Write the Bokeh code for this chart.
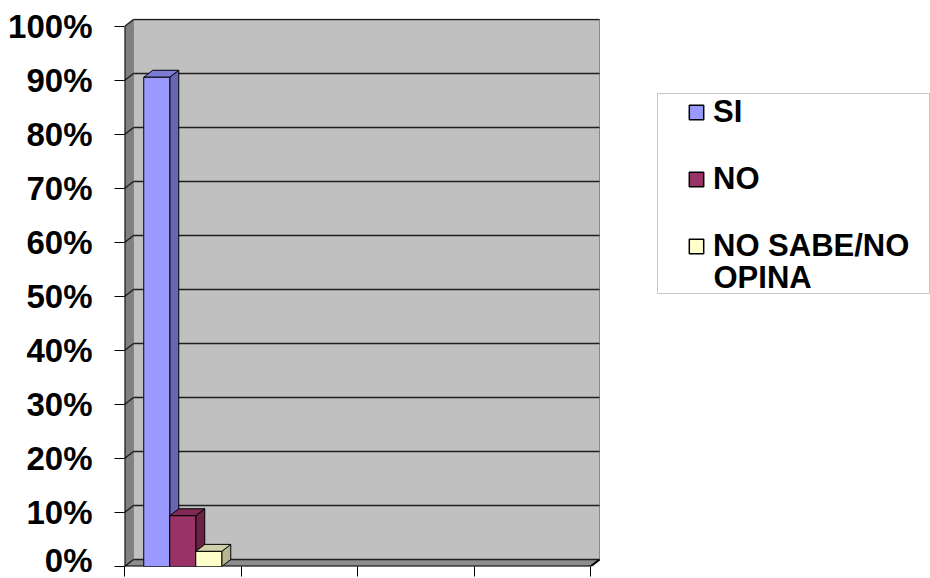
from bokeh.plotting import figure
from bokeh.layouts import row
from bokeh.models import (Range1d, FixedTicker, PrintfTickFormatter, Legend, LegendItem,
                          BoxAnnotation, Label)
from bokeh.embed import file_html
from bokeh.resources import INLINE

# ---- data -------------------------------------------------------------
series = ["SI", "NO", "NO SABE/NO"]
series_continuation = "OPINA"        # second line of the third legend label
values = [90.6, 9.4, 2.8]            # percent
n_categories = 4                     # category slots on the x axis
y_ticks = [0, 10, 20, 30, 40, 50, 60, 70, 80, 90, 100]

front_colors = ["#9999FF", "#993366", "#FFFFCC"]
top_colors = ["#7B7BD6", "#7E2A55", "#D0D0A8"]
side_colors = ["#6666B3", "#6A2346", "#B5B592"]

# ---- geometry / style ---------------------------------------------------
D = 0.0773      # depth offset in x (category units)
DY = 1.296      # depth offset in y (percent units)
BW = 0.2232     # bar width (category units)

p = figure(width=600, height=578, output_backend="svg", toolbar_location=None,
           x_range=Range1d(0, n_categories + 0.0858), y_range=Range1d(0, 101.48),
           min_border_left=124, min_border_right=0, min_border_top=18,
           min_border_bottom=12, background_fill_color="white",
           border_fill_color="white", outline_line_color=None)
p.xgrid.visible = False
p.ygrid.visible = False

# walls
top = y_ticks[-1]
p.quad(left=[D], right=[n_categories + D], bottom=[DY], top=[top + DY],
       fill_color="#C0C0C0", line_color="#8A8A8A", line_width=1)
p.patch([0, 0, D, D], [0, top, top + DY, DY], fill_color="#808080", line_color=None)
p.patch([0, n_categories, n_categories + D, D], [0, 0, DY, DY],
        fill_color="#8C8C8C", line_color=None)

# gridlines on side and back walls
gx0, gy0, gx1, gy1 = [], [], [], []
for v in y_ticks:
    gx0 += [0, D]; gy0 += [v, v + DY]
    gx1 += [D, n_categories + D]; gy1 += [v + DY, v + DY]
p.segment(gx0, gy0, gx1, gy1, line_color="#1E1E1E", line_width=1.5)

# front edges
p.segment([0, 0, n_categories], [0, 0, 0], [0, n_categories, n_categories + D],
          [top, 0, DY], line_color="black", line_width=2)

# bars
group_left = 0.5 - 1.5 * BW
for i, v in enumerate(values):
    l = group_left + i * BW
    r = l + BW
    p.patch([r, r + D, r + D, r], [0, DY, v + DY, v],
            fill_color=side_colors[i], line_color="black", line_width=1)
    p.patch([l, r, r + D, l + D], [v, v, v + DY, v + DY],
            fill_color=top_colors[i], line_color="black", line_width=1)
    p.patch([l, r, r, l], [0, 0, v, v],
            fill_color=front_colors[i], line_color="black", line_width=1)

# axes
p.yaxis.ticker = FixedTicker(ticks=y_ticks)
p.yaxis.formatter = PrintfTickFormatter(format="%d%%")
p.yaxis.axis_line_color = None
p.yaxis.major_tick_out = 10
p.yaxis.major_tick_in = 0
p.yaxis.minor_tick_line_color = None
p.yaxis.major_tick_line_color = "black"
p.yaxis.major_label_standoff = 22
p.yaxis.major_label_text_font = "Liberation Sans"
p.yaxis.major_label_text_font_style = "bold"
p.yaxis.major_label_text_font_size = "33px"
p.yaxis.major_label_text_color = "black"

p.xaxis.ticker = FixedTicker(ticks=list(range(n_categories + 1)))
p.xaxis.major_label_overrides = {i: "" for i in range(n_categories + 1)}
p.xaxis.major_label_text_font_size = "1px"
p.xaxis.major_label_standoff = 0
p.xaxis.axis_line_color = None
p.xaxis.major_tick_out = 10
p.xaxis.major_tick_in = 0
p.xaxis.minor_tick_line_color = None
p.xaxis.major_tick_line_color = "black"

# ---- legend panel -------------------------------------------------------
q = figure(width=330, height=578, output_backend="svg", toolbar_location=None,
           x_axis_type=None, y_axis_type=None, x_range=Range1d(0, 1), y_range=Range1d(0, 1),
           min_border=0, outline_line_color=None, background_fill_color="white",
           border_fill_color="white")
q.xgrid.visible = False
q.ygrid.visible = False

# legend key renderers (kept outside the visible range; only their styles show in the legend)
swatches = [q.patch([2, 3, 3, 2], [2, 2, 3, 3], fill_color=front_colors[i],
                    line_color="black", line_width=1.5)
            for i in range(len(series))]

box = BoxAnnotation(left=57, right=329, bottom=273, top=473,
                    left_units="screen", right_units="screen",
                    bottom_units="screen", top_units="screen",
                    fill_color="white", fill_alpha=1.0,
                    line_color="#444444", line_width=1)
q.add_layout(box)

legend = Legend(items=[LegendItem(label=s, renderers=[r]) for s, r in zip(series, swatches)],
                location=(87, 302), padding=0, spacing=31, margin=0,
                glyph_width=18, glyph_height=18, label_standoff=8,
                label_text_font="Liberation Sans", label_text_font_style="bold",
                label_text_font_size="31px", label_text_color="black",
                border_line_color=None, background_fill_alpha=0)
q.add_layout(legend, "center")

q.add_layout(Label(x=113, y=289, x_units="screen", y_units="screen",
                   text=series_continuation, text_baseline="middle",
                   text_font="Liberation Sans", text_font_style="bold",
                   text_font_size="31px", text_color="black"))

open("out.html", "w").write(file_html(row(p, q), INLINE))
